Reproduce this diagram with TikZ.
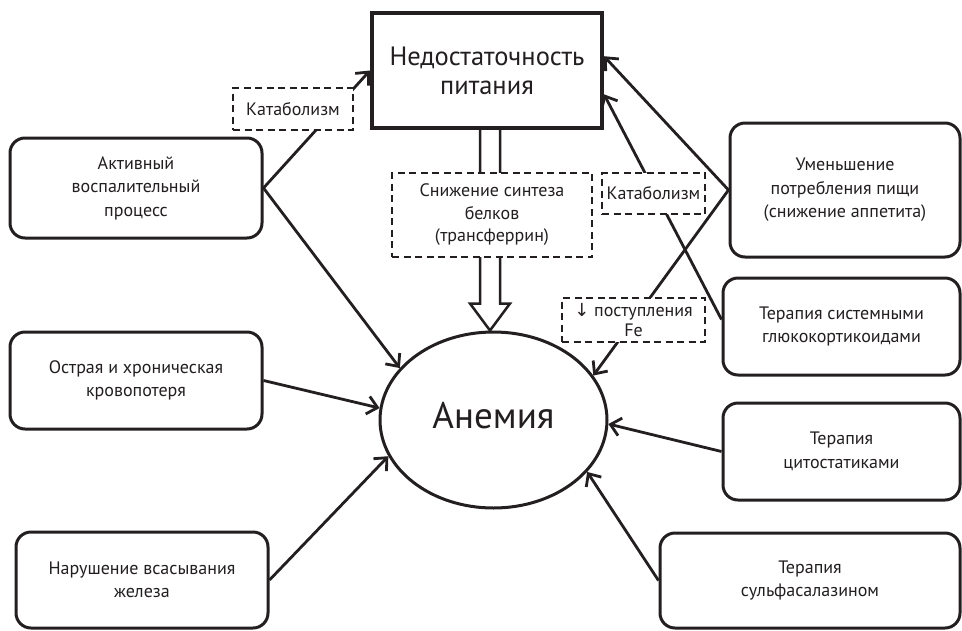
\documentclass[tikz,border=0pt]{standalone}
\usepackage{fontspec}
\setmainfont{PT Sans}
\newfontfamily\arrowfont{DejaVu Sans}
\usetikzlibrary{arrows.meta,calc,shapes.geometric}
\pgfdeclarelayer{bg}
\pgfsetlayers{bg,main}
\definecolor{ink}{HTML}{231F20}
\begin{document}
\begin{tikzpicture}[x=1pt,y=-1pt,
  txt/.style={font=\fontsize{18}{23.5}\selectfont, align=center, text=ink},
  cause/.style={txt, draw=ink, line width=3pt, rounded corners=15pt, fill=white, inner sep=0pt},
  mid/.style={txt, draw=ink, line width=2.2pt, dash pattern=on 7pt off 4.5pt, fill=white, inner sep=0pt},
  conn/.style={draw=ink, line width=2.8pt, -{Straight Barb[length=10pt,width=18pt]}},
  hollow/.style={draw=ink, line width=2.5pt, fill=white, line join=miter},
]
\useasboundingbox (0,0) rectangle (962,630);

\node[draw=ink, line width=4pt, fill=white, minimum width=230pt, minimum height=115pt, inner sep=0pt, align=center, text=ink, font=\fontsize{26.5}{29}\selectfont] (top) at (487,70.5) {Недостаточность\\питания};

\node[cause, minimum width=252pt, minimum height=100pt] (act) at (136,188) {Активный\\воспалительный\\процесс};
\node[cause, minimum width=252pt, minimum height=97pt] (ostr) at (136,380.5) {Острая и хроническая\\кровопотеря};
\node[cause, minimum width=252pt, minimum height=96pt] (nar) at (142,580) {Нарушение всасывания\\железа};
\node[cause, minimum width=230pt, minimum height=134pt] (umen) at (845,190) {Уменьшение\\потребления пищи\\(снижение аппетита)};
\node[cause, minimum width=237pt, minimum height=97pt] (gluk) at (841.5,326.5) {Терапия системными\\глюкокортикоидами};
\node[cause, minimum width=237pt, minimum height=97pt] (cyto) at (841.5,451.5) {Терапия\\цитостатиками};
\node[cause, minimum width=300pt, minimum height=95pt] (sulf) at (810,580.5) {Терапия\\сульфасалазином};

\node[ellipse, draw=ink, line width=3pt, fill=white, minimum width=227pt, minimum height=176pt, inner sep=0pt, text=ink, text depth=10pt, font=\fontsize{37}{40}\selectfont] (anem) at (493.5,420) {Анемия};

\node[mid, minimum width=120pt, minimum height=42pt] (cat1) at (293,109) {Катаболизм};
\node[mid, minimum width=200pt, minimum height=84pt, font=\fontsize{18}{22.5}\selectfont] (snizh) at (492,215) {Снижение синтеза\\белков\\(трансферрин)};
\node[mid, minimum width=103pt, minimum height=41pt] (cat2) at (653.5,193.5) {Катаболизм};
\node[mid, minimum width=143pt, minimum height=44pt, font=\fontsize{18}{19.5}\selectfont] (fe) at (633.5,320) {{\arrowfont ↓} поступления\\Fe};

\begin{pgfonlayer}{bg}
\draw[conn] (act.east) -- (top.west);
\draw[conn] (act.east) -- (anem.151);
\draw[conn] (ostr.east) -- (anem.174);
\draw[conn] (nar.east) -- (anem.199);
\draw[conn] (cyto.west) -- (anem.358);
\draw[conn] (sulf.west) -- (anem.331);
\draw[conn] (umen.west) -- ($(top.north east)!0.38!(top.south east)$);
\draw[conn] ($(gluk.north west)!0.43!(gluk.south west)$) -- ($(top.north east)!0.70!(top.south east)$);
\draw[conn] (umen.west) -- (anem.24);
\coordinate (ax) at ($(top.south)+(3,0)$);
\coordinate (tip) at (ax |- anem.north);
\draw[hollow] ($(ax)+(-10,0)$) -- ($(tip)+(-10,-27)$) -- ($(tip)+(-20,-27)$) -- (tip) -- ($(tip)+(20,-27)$) -- ($(tip)+(10,-27)$) -- ($(ax)+(10,0)$);
\end{pgfonlayer}
\end{tikzpicture}
\end{document}
